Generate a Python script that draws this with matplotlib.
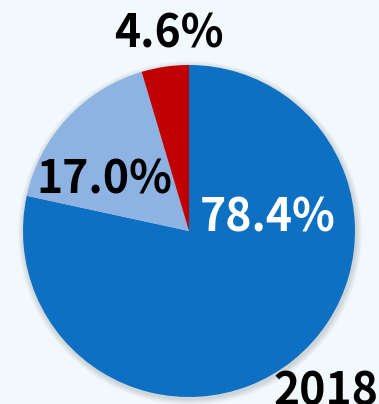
import matplotlib.pyplot as plt

# доли по 2018 году
shares = [78.4, 17.0, 4.6]
labels = ["78.4%", "17.0%", "4.6%"]
colors = ["#0D70C3", "#8EB3E2", "#C00000"]
label_colors = ["white", "black", "black"]
year = "2018"

W, H = 379, 404
BG = "#F1F9FC"

fig = plt.figure(figsize=(W / 100, H / 100), dpi=100, facecolor=BG)
ax = fig.add_axes([0, 0, 1, 1])
ax.set_facecolor(BG)

cx, cy, r = 189, H - 231, 166

# лёгкая тень вокруг круга
for i in range(6):
    sh = plt.Circle((cx + 1, cy - 2), r + 1 + i, color="black", alpha=0.025, lw=0)
    ax.add_patch(sh)

ax.pie(shares, colors=colors, startangle=90, counterclock=False,
       center=(cx, cy), radius=r, frame=True,
       wedgeprops=dict(linewidth=0))
ax.set_xlim(0, W)
ax.set_ylim(0, H)
ax.set_aspect("equal")
ax.axis("off")

font = dict(family=["Noto Sans CJK SC", "DejaVu Sans"], weight="bold", fontsize=32)
# позиции подписей (пиксели: x центр, y базовая линия)
pos = [(268, 232), (104, 193), (169, 47)]
for (px, py), txt, c in zip(pos, labels, label_colors):
    ax.text(px, H - py, txt, color=c, ha="center", va="baseline", **font)

ax.text(326, H - 405, year, color="black", ha="center", va="baseline", **font)

fig.savefig("out.png", dpi=100, facecolor=BG)
